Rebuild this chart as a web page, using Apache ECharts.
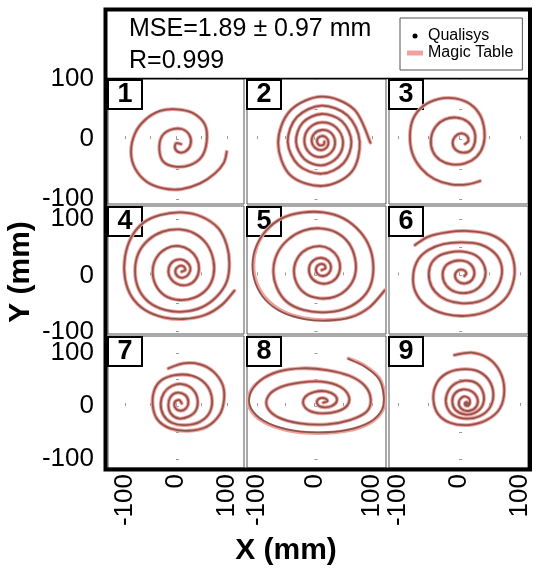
<!DOCTYPE html>
<html>
<head>
<meta charset="utf-8">
<script src="https://cdn.jsdelivr.net/npm/echarts@6/dist/echarts.min.js"></script>
<style>
html, body { margin: 0; padding: 0; background: #fff; }
#chart { width: 533px; height: 569px; }
</style>
</head>
<body>
<div id="chart"></div>
<script>
// tick labels and panel numbers
var tickValues = [-100, 0, 100];
var minorTicks = [-100, -50, 0, 50, 100];
var panelLabels = ['1', '2', '3', '4', '5', '6', '7', '8', '9'];

// spiral traces in mm (center -> outer end)
var spiral1 = [[9.8,-8.2],[0.1,-7.1],[-1.9,-15.4],[6.6,-22.1],[19.6,-19.8],[28.7,-8.2],[26.1,6.8],[11.1,16.8],[-11.7,15.1],[-28.0,4.0],[-32.5,-18.2],[-24.7,-37.6],[-1.9,-45.9],[27.4,-43.2],[50.3,-29.3],[60.0,-4.3],[56.8,23.5],[34.0,42.9],[1.4,49.5],[-31.2,46.8],[-60.6,31.8],[-80.1,9.6],[-88.0,-21.0],[-80.1,-48.7],[-57.3,-70.9],[-24.7,-82.0],[11.1,-83.1],[47.0,-73.7],[76.3,-57.0],[94.0,-38.7],[99.2,-21.0]];
var spiral2 = [[17.1,-4.3],[16.6,-8.2],[12.5,-10.4],[7.3,-9.3],[4.4,-4.3],[6.2,1.8],[12.5,5.1],[20.0,2.9],
  [24.1,-4.3],[21.8,-13.2],[12.5,-18.2],[1.5,-14.8],[-4.8,-4.3],[-0.8,8.5],[12.5,15.1],[28.1,10.7],
  [35.6,-4.3],[29.9,-21.0],[12.5,-29.8],[-7.7,-23.7],[-17.5,-4.3],[-10.0,17.3],[12.5,27.9],[37.4,19.6],
  [49.5,-4.3],[39.7,-30.4],[12.5,-43.7],[-17.5,-33.2],[-32.0,-4.3],[-20.4,27.3],[12.5,41.8],[47.8,29.6],
  [64.0,-4.3],[50.1,-40.4],[12.5,-57.6],[-27.9,-43.2],[-46.4,-4.3],[-30.3,36.8],[12.5,55.6],[57.6,39.0],
  [78.4,-4.3],[64.0,-55.0],[14.0,-78.0],[-42.0,-60.0],[-63.0,-6.0],[-42.0,47.3],[12.5,70.6],[68.6,49.5],[97.0,-6.0]];
var spiral3 = [[9.7,-8.2],[15.2,-3.2],[12.4,5.7],[3.1,9.6],[-6.7,4.0],[-10.6,-7.1],[-5.1,-18.2],[6.9,-22.6],[19.5,-18.2],[26.1,-4.3],[25.0,13.5],[14.1,29.0],[-4.0,35.7],[-23.1,32.9],[-38.5,20.7],[-46.1,1.2],[-43.4,-19.8],[-31.3,-34.8],[-12.2,-42.0],[9.7,-40.4],[28.8,-29.3],[39.8,-9.9],[41.4,15.1],[34.3,40.1],[17.9,58.4],[-6.7,67.8],[-34.1,66.7],[-58.7,55.1],[-75.1,34.5],[-80.6,6.8],[-76.7,-23.7],[-62.5,-48.7],[-40.6,-66.5],[-13.3,-75.3],[14.1,-75.3],[34.3,-69.8]];
var spiral4 = [[11.1,6.5],[18.3,9.5],[14.4,16.0],[5.3,16.0],[-1.2,8.3],[2.7,-1.1],[14.4,-4.1],[24.8,2.4],[28.1,13.6],[20.9,23.7],[9.2,28.4],[-5.2,24.9],[-14.3,12.4],[-11.7,-3.5],[2.7,-15.3],[22.2,-17.1],[38.5,-7.1],[45.0,10.7],[40.5,30.2],[26.1,44.9],[6.6,52.0],[-18.2,47.9],[-37.8,31.9],[-45.6,8.3],[-39.7,-17.1],[-21.5,-36.0],[6.6,-43.7],[35.9,-39.6],[60.0,-24.8],[73.1,-1.1],[73.1,27.2],[60.0,55.6],[35.9,74.5],[6.6,81.6],[-26.0,77.5],[-54.1,62.7],[-73.6,39.0],[-80.1,8.3],[-73.6,-23.0],[-54.1,-46.7],[-21.5,-61.4],[14.4,-64.4],[50.3,-56.7],[79.6,-37.8],[99.2,-11.2],[104.4,21.3],[99.2,53.8],[82.9,83.4],[50.3,104.0],[11.1,111.7],[-31.2,107.0],[-63.8,93.4],[-86.7,68.6],[-99.7,33.1],[-99.7,-5.3],[-86.7,-37.8],[-60.6,-61.4],[-24.7,-74.4],[14.4,-77.4],[56.8,-70.3],[89.4,-52.6],[114.2,-27.2]];
var spiral5 = [[12.5,9.5],[18.9,12.4],[16.6,18.9],[8.5,19.5],[2.7,12.4],[5.6,2.4],[15.4,-1.1],[24.6,3.6],[28.7,14.2],[24.1,25.4],[12.5,30.8],[-0.8,27.2],[-8.9,15.4],[-7.1,-1.1],[5.0,-12.4],[22.3,-14.2],[37.4,-5.3],[44.3,12.4],[40.3,31.9],[27.0,46.1],[9.6,52.0],[-11.8,47.3],[-27.9,33.1],[-35.5,10.7],[-30.8,-14.2],[-14.7,-33.1],[9.6,-40.7],[35.6,-37.8],[57.6,-23.0],[70.3,0.6],[70.3,30.2],[58.8,58.0],[37.4,76.3],[9.6,83.4],[-19.3,79.2],[-45.3,63.9],[-63.8,40.2],[-71.3,9.5],[-65.5,-21.2],[-48.2,-46.7],[-19.3,-61.4],[15.4,-65.6],[50.1,-60.2],[79.0,-43.7],[96.3,-20.1],[102.1,12.4],[96.3,47.9],[79.0,77.5],[50.1,101.1],[15.4,111.7],[-22.2,111.1],[-56.8,101.1],[-82.9,80.4],[-100.2,50.9],[-106.0,18.4],[-100.2,-14.2],[-82.9,-42.5],[-54.0,-64.4],[-16.4,-76.2],[24.1,-79.2],[64.5,-73.3],[96.3,-55.5],[122.3,-26.0]];
var spiral6 = [[8.6,-1.1],[11.9,3.6],[6.9,9.5],[-2.4,8.3],[-6.7,-1.1],[-1.3,-11.2],[10.8,-14.2],[21.7,-7.1],[25.0,6.5],[18.4,20.1],[5.3,26.0],[-10.6,24.3],[-23.1,15.4],[-27.0,-1.1],[-20.4,-18.9],[-5.6,-29.5],[15.2,-30.7],[32.7,-21.2],[42.5,-3.5],[41.4,16.6],[28.8,34.3],[6.9,42.0],[-17.7,40.2],[-36.8,31.9],[-47.8,15.4],[-48.8,-8.2],[-39.5,-28.9],[-20.4,-43.7],[5.3,-49.6],[31.6,-46.7],[53.4,-33.7],[67.1,-11.2],[69.9,15.4],[58.9,39.0],[34.3,55.0],[4.2,58.5],[-25.9,55.6],[-50.5,44.9],[-66.9,28.4],[-75.1,2.4],[-72.4,-27.2],[-54.9,-52.6],[-23.1,-68.5],[15.2,-71.5],[50.7,-61.4],[78.1,-37.8],[90.1,-5.3],[89.0,27.2],[76.4,55.0],[50.7,72.7],[15.2,78.6],[-20.4,76.3],[-50.5,68.6],[-72.4,53.8]];
var spiral7 = [[11.1,4.9],[6.6,11.2],[-1.9,8.1],[-1.9,-2.6],[7.9,-8.9],[19.6,-4.5],[24.2,8.1],[17.7,20.6],[2.7,25.0],[-10.4,17.5],[-14.9,1.8],[-10.4,-14.0],[4.6,-23.4],[24.2,-20.2],[39.2,-7.7],[41.8,14.4],[30.7,33.2],[11.1,41.4],[-8.4,37.6],[-23.4,25.0],[-29.9,4.9],[-24.7,-17.1],[-8.4,-31.6],[17.7,-36.0],[47.0,-29.7],[66.6,-10.8],[69.8,17.5],[56.8,42.7],[30.7,57.1],[-1.9,58.4],[-28.0,48.9],[-42.3,30.1],[-45.6,1.8],[-36.5,-25.3],[-11.7,-42.3],[24.2,-46.7],[60.0,-39.1],[84.8,-17.1],[93.9,11.2],[91.3,39.5],[73.1,64.7],[47.0,78.5],[14.4,80.4],[-14.9,71.0]];
var spiral8 = [[15.4,6.2],[22.3,8.7],[19.4,13.7],[10.8,15.0],[4.4,9.3],[7.3,0.5],[17.7,-2.6],[29.9,-0.1],[38.5,8.7],[35.6,20.0],[20.0,27.6],[-0.8,26.3],[-15.8,17.5],[-19.3,3.7],[-8.9,-8.9],[14.2,-14.0],[39.7,-10.2],[57.0,1.1],[59.3,18.8],[44.3,36.4],[12.5,45.8],[-25.1,43.9],[-59.7,35.1],[-80.0,18.8],[-81.7,-2.6],[-62.6,-21.5],[-25.1,-32.8],[21.2,-34.7],[61.6,-26.5],[90.5,-10.8],[97.5,12.5],[87.7,37.6],[61.6,56.5],[21.2,67.8],[-22.2,71.0],[-62.6,64.7],[-94.4,47.7],[-112.9,22.5],[-111.8,-4.5],[-88.6,-29.7],[-48.2,-45.4],[3.8,-51.1],[55.9,-46.7],[96.3,-31.6],[118.0,-7.7],[121.0,20.6],[112.5,52.1],[87.7,75.4],[58.8,89.8]];
var spiral9 = [[11.5,4.0],[13.5,2.5],[15.0,4.5],[13.5,7.0],[10.5,6.5],[9.5,3.5],[11.5,0.5],[15.5,1.0],[17.9,6.2],[16.2,14.4],[6.9,17.5],[-0.2,8.1],[3.1,-4.5],[15.2,-9.5],[27.2,-2.6],[30.5,12.5],[21.7,26.9],[6.9,31.3],[-6.7,23.8],[-11.1,8.1],[-5.6,-7.7],[9.7,-15.8],[26.1,-12.7],[38.7,1.8],[39.8,23.8],[28.8,42.7],[9.7,47.7],[-9.5,39.5],[-20.4,20.6],[-20.4,-0.1],[-9.5,-17.1],[12.4,-24.0],[34.3,-19.0],[50.7,-2.6],[56.2,23.8],[48.0,50.2],[28.8,66.6],[3.1,69.1],[-20.4,61.5],[-36.8,42.7],[-42.3,14.4],[-35.2,-14.0],[-14.9,-31.6],[15.2,-36.0],[45.2,-26.5],[67.1,-4.5],[74.2,30.1],[67.1,64.7],[48.0,89.8],[20.6,100.5],[-7.8,96.1]];

// Qualisys follows the table except on the outer arcs of panels 5 and 8
var qualisysTail5 = [[-101.1,51.0],[-107.5,18.2],[-102.1,-14.6],[-85.0,-43.8],[-55.5,-65.7],[-17.2,-77.6],[23.6,-80.1],[63.8,-74.2],[95.6,-56.3],[121.6,-26.8]];
var qualisysTail8 = [[-111.5,22.8],[-110.4,-3.8],[-87.3,-28.4],[-47.6,-44.0],[3.9,-49.8],[55.5,-45.6],[95.7,-30.8],[117.0,-7.4],[120.0,20.3],[111.8,51.0],[87.4,74.2],[58.9,88.9]];
var qualisys5 = spiral5.slice(0, spiral5.length - qualisysTail5.length).concat(qualisysTail5);
var qualisys8 = spiral8.slice(0, spiral8.length - qualisysTail8.length).concat(qualisysTail8);

var magicTable = [spiral1, spiral2, spiral3, spiral4, spiral5, spiral6, spiral7, spiral8, spiral9];
var qualisys = [spiral1, spiral2, spiral3, spiral4, qualisys5, spiral6, spiral7, qualisys8, spiral9];

// panel layout: columns share x scale, rows share y scale
var cols = [
  { left: 108, width: 136, min: -133, max: 133 },
  { left: 247, width: 139, min: -117, max: 124 },
  { left: 389, width: 139, min: -115, max: 113 }
];
var rows = [
  { top: 79, height: 125, min: -108, max: 100 },
  { top: 206, height: 128, min: -104, max: 123 },
  { top: 336, height: 132, min: -117, max: 132 }
];

var FONT = '"Liberation Sans", Arial, sans-serif';
var chart = echarts.init(document.getElementById('chart'));

// Catmull-Rom curve through the pixel positions of the points
function curvePath(c) {
    var f = function (v) { return v.toFixed(2); };
    var d = 'M' + f(c[0][0]) + ' ' + f(c[0][1]);
    for (var k = 0; k < c.length - 1; k++) {
        var p0 = c[k - 1] || c[k], p1 = c[k], p2 = c[k + 1], p3 = c[k + 2] || c[k + 1];
        d += ' C' + f(p1[0] + (p2[0] - p0[0]) / 6) + ' ' + f(p1[1] + (p2[1] - p0[1]) / 6) +
             ' ' + f(p2[0] - (p3[0] - p1[0]) / 6) + ' ' + f(p2[1] - (p3[1] - p1[1]) / 6) +
             ' ' + f(p2[0]) + ' ' + f(p2[1]);
    }
    return d;
}

// a smooth trace through the points, placed with the panel's own axes
function traceSeries(name, pts, idx, stroke, width, z) {
    return {
        name: name, type: 'custom', xAxisIndex: idx, yAxisIndex: idx,
        data: pts, encode: { x: 0, y: 1 }, silent: true, clip: true, z: z,
        itemStyle: { color: stroke },
        renderItem: function (params, api) {
            if (params.dataIndex !== 0) return null;
            var coords = pts.map(function (p) { return api.coord(p); });
            return {
                type: 'path',
                shape: { pathData: curvePath(coords) },
                style: { fill: 'none', stroke: stroke, lineWidth: width, lineCap: 'round', lineJoin: 'round' }
            };
        }
    };
}

var grids = [], xAxes = [], yAxes = [], series = [], graphics = [];

for (var i = 0; i < 9; i++) {
    var r = Math.floor(i / 3), c = i % 3;
    grids.push({
        left: cols[c].left, top: rows[r].top,
        width: cols[c].width, height: rows[r].height,
        show: true, borderColor: '#555', borderWidth: 1, backgroundColor: '#fff'
    });
    xAxes.push({
        gridIndex: i, type: 'value', min: cols[c].min, max: cols[c].max,
        axisLine: { show: false }, splitLine: { show: false },
        axisTick: { show: true, inside: true, length: 3, customValues: minorTicks, lineStyle: { color: '#999' } },
        axisLabel: {
            show: r === 2, customValues: tickValues, rotate: 90, margin: 6,
            fontSize: 26, color: '#000', fontFamily: FONT
        }
    });
    yAxes.push({
        gridIndex: i, type: 'value', min: rows[r].min, max: rows[r].max,
        axisLine: { show: false }, splitLine: { show: false },
        axisTick: { show: true, inside: true, length: 3, customValues: minorTicks, lineStyle: { color: '#999' } },
        axisLabel: {
            show: c === 0, customValues: tickValues, margin: 14,
            fontSize: 26, color: '#000', fontFamily: FONT
        }
    });
    series.push(traceSeries('Magic Table', magicTable[i], i, '#f2a09c', 3.8, 2));
    series.push(traceSeries('Qualisys', qualisys[i], i, 'rgba(50,18,8,0.52)', 1.8, 3));
    // numbered box in the panel corner
    graphics.push({
        type: 'group', z: 50,
        children: [
            { type: 'rect', shape: { x: cols[c].left, y: rows[r].top + 1, width: 34, height: 29 },
              style: { fill: '#fff', stroke: '#000', lineWidth: 2 } },
            { type: 'text', x: cols[c].left + 17, y: rows[r].top + 16,
              style: { text: panelLabels[i], fontSize: 27, fontWeight: 'bold', fontFamily: FONT,
                       fill: '#000', align: 'center', verticalAlign: 'middle' } }
        ]
    });
}

graphics.push(
    { type: 'line', z: 60, shape: { x1: 106, y1: 78.5, x2: 530, y2: 78.5 }, style: { stroke: '#000', lineWidth: 1.5 } },
    { type: 'rect', z: 60, shape: { x: 105.5, y: 9.5, width: 424.5, height: 460 },
      style: { fill: 'none', stroke: '#000', lineWidth: 4 } },
    { type: 'text', z: 60, x: 129, y: 29,
      style: { text: 'MSE=1.89 \u00b1 0.97 mm', fontSize: 25, fontFamily: FONT, fill: '#000', align: 'left', verticalAlign: 'middle' } },
    { type: 'text', z: 60, x: 129, y: 61,
      style: { text: 'R=0.999', fontSize: 25, fontFamily: FONT, fill: '#000', align: 'left', verticalAlign: 'middle' } },
    { type: 'text', z: 60, x: 21, y: 272, rotation: Math.PI / 2,
      style: { text: 'Y (mm)', fontSize: 30, fontWeight: 'bold', fontFamily: FONT, fill: '#000', align: 'center', verticalAlign: 'middle' } },
    { type: 'text', z: 60, x: 286, y: 551,
      style: { text: 'X (mm)', fontSize: 30, fontWeight: 'bold', fontFamily: FONT, fill: '#000', align: 'center', verticalAlign: 'middle' } }
);

chart.setOption({
    animation: false,
    backgroundColor: '#fff',
    grid: grids,
    xAxis: xAxes,
    yAxis: yAxes,
    legend: {
        orient: 'vertical', left: 400, top: 18,
        itemWidth: 16, itemHeight: 5, itemGap: 1,
        padding: [10, 9, 9, 7],
        borderColor: '#555', borderWidth: 1, backgroundColor: '#fff',
        selectedMode: false,
        textStyle: { fontSize: 16, lineHeight: 16, color: '#000', fontFamily: FONT },
        data: [
            { name: 'Qualisys', icon: 'circle', itemStyle: { color: '#000' } },
            { name: 'Magic Table', icon: 'rect', itemStyle: { color: '#f4a0a0' } }
        ]
    },
    series: series,
    graphic: graphics
});
</script>
</body>
</html>
